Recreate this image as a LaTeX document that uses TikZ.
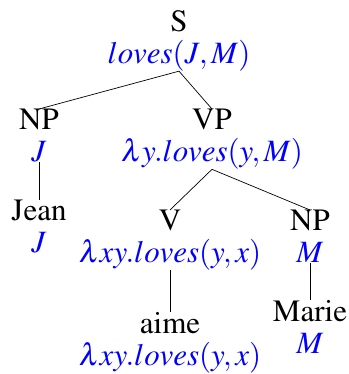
\documentclass[tikz,border=0pt]{standalone}
\usepackage[T1]{fontenc}
\usepackage{mathptmx}
\usepackage{xcolor}
\usepackage{tikz}

\tikzset{
  tnode/.style={anchor=north, align=center, inner sep=0pt, font=\fontsize{31}{32}\selectfont},
  tedge/.style={line width=0.7pt}
}
\newcommand{\sem}[1]{\textcolor{blue}{$#1$}}

\begin{document}
\begin{tikzpicture}[x=1pt, y=-1pt]
    \useasboundingbox (0, 0) rectangle (348, 374);

    % nodes of the tree
    \node[tnode] (s) at (179, 10) {S\\ \sem{loves(J,M)}};
    \node[tnode] (npj) at (39, 109) {NP\\ \sem{J}};
    \node[tnode] (vp) at (212, 109) {VP\\ \sem{\lambda y.loves(y,M)}};
    \node[tnode] (jean) at (39, 200) {Jean\\ \sem{J}};
    \node[tnode] (v) at (170, 210) {V\\ \sem{\lambda xy.loves(y,x)}};
    \node[tnode] (npm) at (310, 210) {NP\\ \sem{M}};
    \node[tnode] (aime) at (170, 312) {aime\\ \sem{\lambda xy.loves(y,x)}};
    \node[tnode] (marie) at (310, 300) {Marie\\ \sem{M}};

    % branches
    \draw[tedge] (s.south) -- (npj.north);
    \draw[tedge] (s.south) -- (vp.north);
    \draw[tedge] (npj.south) -- (jean.north);
    \draw[tedge] (vp.south) -- (v.north);
    \draw[tedge] (vp.south) -- (npm.north);
    \draw[tedge] (v.south) -- (aime.north);
    \draw[tedge] (npm.south) -- (marie.north);

\end{tikzpicture}
\end{document}
